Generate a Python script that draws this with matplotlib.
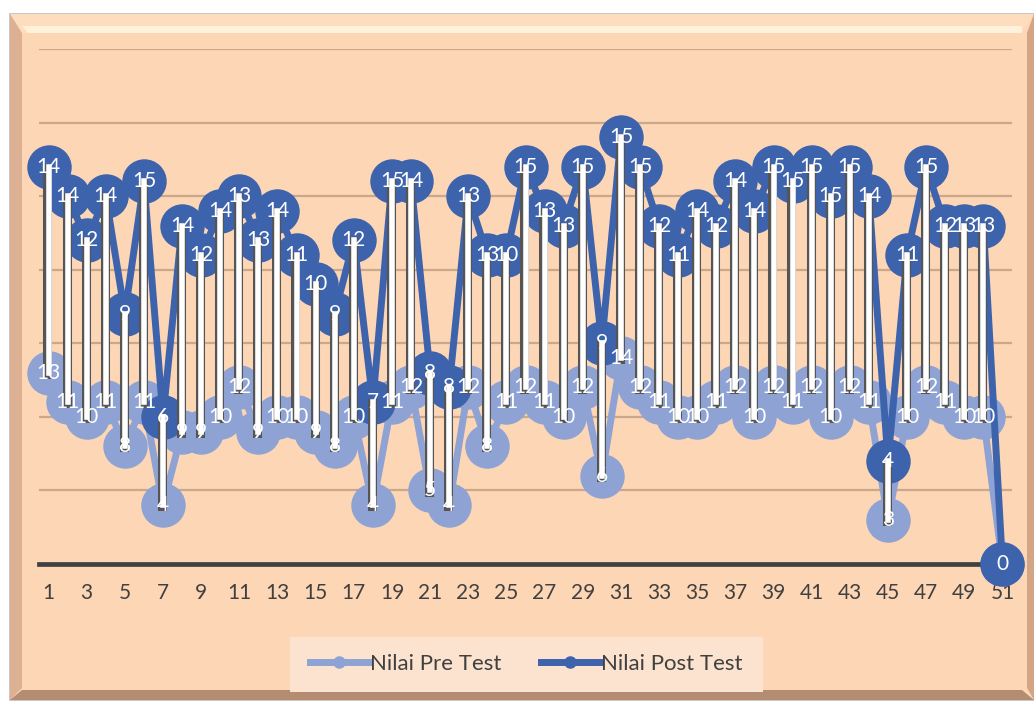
import numpy as np
import matplotlib
matplotlib.use('Agg')
import matplotlib.pyplot as plt
from matplotlib.patches import Polygon, Rectangle
from matplotlib.lines import Line2D
import matplotlib.patheffects as pe

categories = list(range(1, 52))
pre_test = [13, 11, 10, 11, 8, 11, 4, 9, 9, 10, 12, 9, 10, 10, 9, 8, 10, 4, 11, 12,
            5, 4, 12, 8, 11, 12, 11, 10, 12, 6, 14, 12, 11, 10, 10, 11, 12, 10, 12, 11,
            12, 10, 12, 11, 3, 10, 12, 11, 10, 10, 0]
post_test = [14, 14, 12, 14, 9, 15, 6, 14, 12, 14, 13, 13, 14, 11, 10, 9, 12, 7, 15, 14,
             8, 8, 13, 13, 10, 15, 13, 13, 15, 9, 15, 15, 12, 11, 14, 12, 14, 14, 15, 15,
             15, 15, 15, 14, 4, 11, 15, 12, 13, 13, 0]
tick_values = list(range(1, 52, 2))
tick_labels = [str(v) for v in tick_values]
series_names = ["Nilai Pre Test", "Nilai Post Test"]

plt.rcParams['font.family'] = ['Lato', 'DejaVu Sans']

W, H = 1034, 703
fig = plt.figure(figsize=(W / 100, H / 100), dpi=100)
fig.patch.set_facecolor('white')

# background frame (pixel coords)
bg = fig.add_axes([0, 0, 1, 1], zorder=0)
bg.set_xlim(0, W)
bg.set_ylim(H, 0)
bg.axis('off')
peach = '#FDD6B5'
x0, y0, x1, y1 = 10, 14, 1034, 700
bw = 12
bg.add_patch(Rectangle((x0, y0), x1 - x0, y1 - y0, facecolor=peach, edgecolor='#BDBDBD', lw=1.2))
bg.add_patch(Polygon([(x0, y0), (x1, y0), (x1 - bw, y0 + 19), (x0 + bw, y0 + 19)], closed=True,
                     facecolor='#FEDDBF', edgecolor='none'))
bg.add_patch(Polygon([(x0 + bw, y0 + 12), (x1 - bw, y0 + 12), (x1 - bw, y0 + 19), (x0 + bw + 6, y0 + 19)],
                     closed=True, facecolor='#FFF2DC', edgecolor='none'))
bg.add_patch(Polygon([(x0, y0), (x0 + bw, y0 + 19), (x0 + bw, y1 - bw), (x0, y1)], closed=True,
                     facecolor='#DDB094', edgecolor='none'))
bg.add_patch(Polygon([(x1, y0), (x1 - bw + 5, y0 + 19), (x1 - bw + 5, y1 - bw), (x1, y1)], closed=True,
                     facecolor='#D4A584', edgecolor='none'))
bg.add_patch(Polygon([(x0, y1), (x0 + bw, y1 - 10), (x1 - bw, y1 - 10), (x1, y1)], closed=True,
                     facecolor='#B48C72', edgecolor='none'))

# legend box
bg.add_patch(Rectangle((290, 637), 473, 55, facecolor='#FBE3CF', edgecolor='none'))

# main axes
left, right = 39 / W, 1012 / W
bottom, top = (H - 564) / H, (H - 49) / H
ax = fig.add_axes([left, bottom, right - left, top - bottom], zorder=2)
ax.patch.set_alpha(0)

x = np.array(categories)
pre = np.array(pre_test)
post = np.array(post_test)
post_stacked = pre + post

pre_color = '#8EA3D4'
post_color = '#3D63AD'

ax.set_xlim(0.5, 51.5)
ax.set_ylim(0, 35)
for g in range(5, 36, 5):
    ax.axhline(g, color='#C9A88C', lw=1.6, zorder=1)

ax.plot(x, pre, color=pre_color, lw=5, marker='o', markersize=32, markeredgewidth=0,
        solid_joinstyle='round', zorder=3, clip_on=False)
ax.plot(x, post_stacked, color=post_color, lw=5, marker='o', markersize=32, markeredgewidth=0,
        solid_joinstyle='round', zorder=4, clip_on=False)

# high-low lines
for xi, lo, hi in zip(x, pre, post_stacked):
    if hi == lo:
        continue
    ax.plot([xi, xi], [lo, hi], color='white', lw=4, solid_capstyle='projecting', zorder=5,
            path_effects=[pe.Stroke(linewidth=6.5, foreground='#555555', offset=(-0.8, -0.8)),
                          pe.Normal()])

# axis line
ax.axhline(0, color='#404040', lw=3.4, zorder=3.5, clip_on=False)

# data labels
for xi, v, yp in zip(x, pre, pre):
    if v == 0:
        continue
    ax.text(xi, yp, str(v), color='white', fontsize=15, ha='center', va='center', zorder=6)
for xi, v, yp in zip(x, post, post_stacked):
    ax.text(xi, yp, str(v), color='white', fontsize=15, ha='center', va='center', zorder=6,
            clip_on=False)

ax.set_xticks(tick_values)
ax.set_xticklabels(tick_labels, fontsize=15, color='#404040')
ax.tick_params(axis='x', length=0, pad=14)
ax.set_yticks([])
for s in ax.spines.values():
    s.set_visible(False)

handles = [Line2D([], [], color=pre_color, lw=5, marker='o', markersize=8),
           Line2D([], [], color=post_color, lw=5, marker='o', markersize=8)]
fig.legend(handles, series_names, loc='center', bbox_to_anchor=(526.5 / W, 1 - 664 / H),
           ncol=2, frameon=False, fontsize=16, handlelength=2.6, columnspacing=1.8,
           handletextpad=0.1, labelcolor='#404040')

fig.savefig('out.png', dpi=100, facecolor=fig.get_facecolor())
